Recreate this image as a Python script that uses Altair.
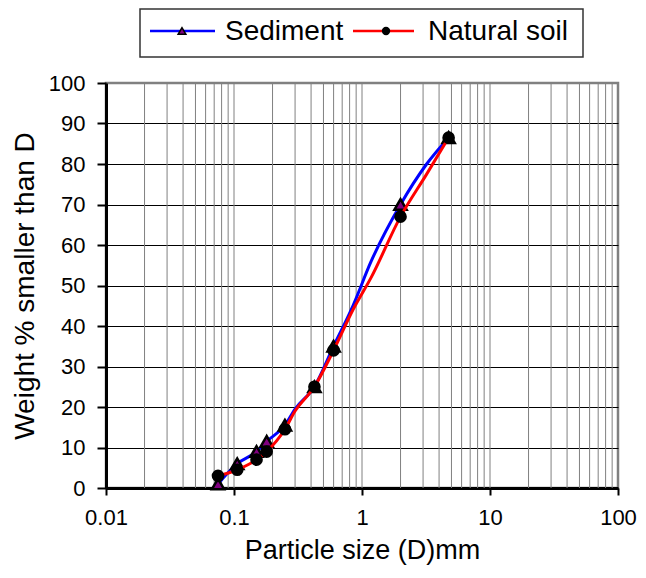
import altair as alt
import pandas as pd

# sieve sizes that carry a marker (mm)
marker_sizes = [0.075, 0.106, 0.15, 0.18, 0.25, 0.425, 0.6, 2, 4.75]
sediment_marked = [1, 6, 9, 11.5, 15.5, 25, 35, 70, 86.5]
natural_marked = [3, 4.5, 7, 9, 14.5, 25, 34, 67, 86.5]

# points of the drawn curves (mm, % passing)
curve_sizes = [0.075, 0.106, 0.15, 0.18, 0.25, 0.3, 0.425, 0.6, 0.85, 1.18, 2, 3.2, 4.75]
sediment_curve = [1, 6, 9, 11.5, 15.5, 19.5, 25, 35, 45, 56, 70, 80, 86.5]
natural_curve = [3, 4.5, 7, 9, 14.5, 19, 25, 34, 44, 52, 67, 77.5, 86.5]

x_ticks = [0.01, 0.1, 1, 10, 100]
x_grid = [0.02, 0.03, 0.04, 0.05, 0.06, 0.07, 0.08, 0.09, 0.1,
          0.2, 0.3, 0.4, 0.5, 0.6, 0.7, 0.8, 0.9, 1,
          2, 3, 4, 5, 6, 7, 8, 9, 10,
          20, 30, 40, 50, 60, 70, 80, 90]
y_ticks = [0, 10, 20, 30, 40, 50, 60, 70, 80, 90, 100]

FONT = "Liberation Sans"

curve_df = pd.DataFrame({
    "size": curve_sizes * 2,
    "pct": sediment_curve + natural_curve,
    "series": ["Sediment"] * len(curve_sizes) + ["Natural soil"] * len(curve_sizes),
})
marker_df = pd.DataFrame({
    "size": marker_sizes * 2,
    "pct": sediment_marked + natural_marked,
    "series": ["Sediment"] * len(marker_sizes) + ["Natural soil"] * len(marker_sizes),
})
grid_df = pd.DataFrame({"size": x_grid})

x_scale = alt.Scale(type="log", domain=[0.01, 100], nice=False)
y_scale = alt.Scale(domain=[0, 100], nice=False)

x_axis = alt.Axis(
    title="Particle size (D)mm", values=x_ticks, format="~g", grid=False, labelFlush=False,
    domainColor="black", domainWidth=3, tickColor="black", tickWidth=2, tickSize=7,
    labelFontSize=22, labelPadding=12, labelColor="black", labelFont=FONT,
    titleFontSize=27, titleFont=FONT, titleFontWeight="normal", titleColor="black",
    titlePadding=9,
)
y_axis = alt.Axis(
    title="Weight % smaller than D", values=y_ticks, grid=True, labelFlush=False,
    gridColor={"condition": {"test": "datum.value == 100", "value": "#808080"}, "value": "black"},
    gridWidth=1, domainColor="black", domainWidth=3, tickColor="black", tickWidth=2, tickSize=9,
    labelFontSize=22, labelPadding=12, labelColor="black", labelFont=FONT,
    titleFontSize=28, titleFont=FONT, titleFontWeight="normal", titleColor="black",
    titlePadding=9,
)

X = alt.X("size:Q", scale=x_scale, axis=x_axis)
Y = alt.Y("pct:Q", scale=y_scale, axis=y_axis)

vgrid = alt.Chart(grid_df).mark_rule(color="#808080", strokeWidth=1).encode(x=X)

sed_line = alt.Chart(curve_df).transform_filter("datum.series == 'Sediment'").mark_line(
    color="#0000FF", strokeWidth=3, interpolate="monotone").encode(x=X, y=Y)
sed_pts = alt.Chart(marker_df).transform_filter("datum.series == 'Sediment'").mark_point(
    shape="triangle-up", filled=True, fill="#800080", stroke="black", strokeWidth=2.5,
    size=150, opacity=1).encode(x=X, y=Y)
nat_line = alt.Chart(curve_df).transform_filter("datum.series == 'Natural soil'").mark_line(
    color="#FF0000", strokeWidth=3, interpolate="monotone").encode(x=X, y=Y)
nat_pts = alt.Chart(marker_df).transform_filter("datum.series == 'Natural soil'").mark_circle(
    color="black", size=160, opacity=1).encode(x=X, y=Y)

# legend drawn above the plot area
one = pd.DataFrame({"k": [0]})
leg_box = alt.Chart(one).mark_rect(fill="white", stroke="#333333", strokeWidth=1.5).encode(
    x=alt.value(34), x2=alt.value(477), y=alt.value(-74), y2=alt.value(-26))
leg_sed_line = alt.Chart(one).mark_rule(color="#0000FF", strokeWidth=2.5).encode(
    x=alt.value(44), x2=alt.value(109), y=alt.value(-52))
leg_sed_pt = alt.Chart(one).mark_point(
    shape="triangle-up", filled=True, fill="#800080", stroke="black", strokeWidth=1.5,
    size=60, opacity=1).encode(x=alt.value(76), y=alt.value(-52))
leg_sed_txt = alt.Chart(one).mark_text(
    align="left", baseline="middle", fontSize=28, font=FONT, color="black").encode(
    x=alt.value(119), y=alt.value(-51), text=alt.value("Sediment"))
leg_nat_line = alt.Chart(one).mark_rule(color="#FF0000", strokeWidth=2.5).encode(
    x=alt.value(247), x2=alt.value(308), y=alt.value(-52))
leg_nat_pt = alt.Chart(one).mark_circle(color="black", size=70, opacity=1).encode(
    x=alt.value(280), y=alt.value(-52))
leg_nat_txt = alt.Chart(one).mark_text(
    align="left", baseline="middle", fontSize=28, font=FONT, color="black").encode(
    x=alt.value(322), y=alt.value(-51), text=alt.value("Natural soil"))

chart = alt.layer(
    vgrid, sed_line, sed_pts, nat_line, nat_pts,
    leg_box, leg_sed_line, leg_sed_pt, leg_sed_txt, leg_nat_line, leg_nat_pt, leg_nat_txt,
).properties(
    width=512, height=405,
    autosize=alt.AutoSizeParams(type="none"),
    padding={"left": 98, "top": 75, "right": 20, "bottom": 82},
    background="white",
).configure_view(stroke="#808080", strokeWidth=2.5)

chart.save("out.html", embed_options={"renderer": "svg", "actions": False})
